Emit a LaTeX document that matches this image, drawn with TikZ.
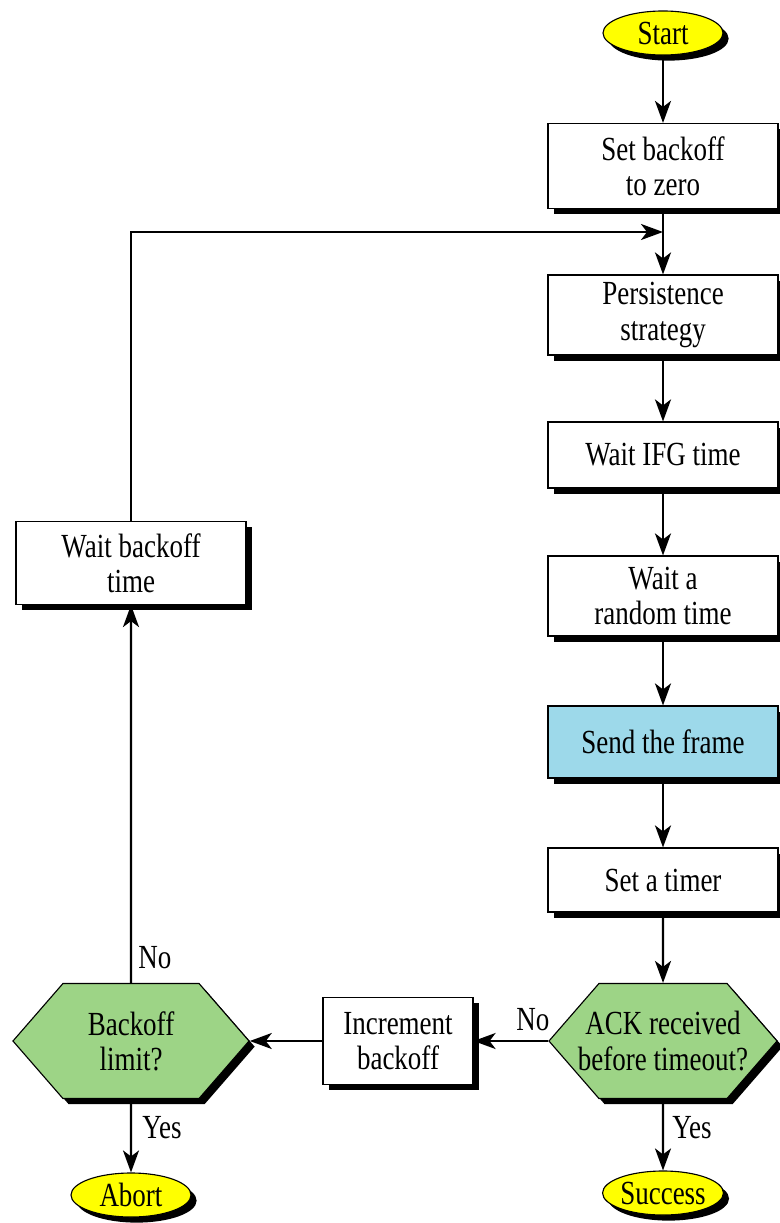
\documentclass[tikz,border=0pt]{standalone}
\usepackage{fontspec}
\setmainfont{Liberation Serif}[FakeStretch=0.8]
\usepackage{xcolor}
\usepackage{tikz}
\usetikzlibrary{calc}
\usetikzlibrary{arrows.meta}
\usetikzlibrary{shapes}
\usetikzlibrary{shapes.geometric}
\usetikzlibrary{shapes.symbols}
\usetikzlibrary{shadows}

\definecolor{termyellow}{HTML}{FFFF00}
\definecolor{sendblue}{HTML}{9DD9EA}
\definecolor{testgreen}{HTML}{9DD486}

\begin{document}
\begin{tikzpicture}[x=0.025cm, y=-0.025cm,
  every node/.style={font=\fontsize{24pt}{25pt}\selectfont, align=center},
  shade/.style={drop shadow={shadow xshift=0.14cm, shadow yshift=-0.14cm, opacity=1, fill=black}},
  terminal/.style={ellipse, draw=black, line width=0.8pt, fill=termyellow, inner sep=0pt,
    minimum width=3cm, minimum height=1.1cm, shade},
  stepbox/.style={rectangle, draw=black, line width=0.8pt, fill=white, inner sep=0pt,
    minimum width=5.75cm, shade},
  % text may run past the slanted sides, hence the negative xsep
  test/.style={signal, signal to=west and east, signal pointer angle=98, draw=black,
    line width=0.8pt, fill=testgreen, inner xsep=-0.6cm, inner ysep=0pt,
    minimum height=2.875cm, shade},
  flow/.style={-{Stealth[length=0.55cm, width=0.4cm, inset=0.15cm]}, line width=1.6pt},
  tag/.style={inner sep=0pt, anchor=west}]
\useasboundingbox (0, 0) rectangle (779, 1223);

% right column
\node [terminal] (start) at (663, 33) {Start};
\node [stepbox, minimum height=2.125cm] (setzero) at (663, 166) {Set backoff\\to zero};
\node [stepbox, minimum height=2cm] (persist) at (663, 315) {Persistence\\strategy};
\node [stepbox, minimum height=1.65cm] (ifg) at (663, 455) {Wait IFG time};
\node [stepbox, minimum height=2cm] (rand) at (663, 596) {Wait a\\random time};
\node [stepbox, minimum height=1.8cm, fill=sendblue] (send) at (663, 742) {Send the frame};
\node [stepbox, minimum height=1.6cm] (timer) at (663, 880) {Set a timer};
\node [test, minimum width=5.7cm] (ack) at (663, 1041) {ACK received\\before timeout?};
\node [terminal] (success) at (663, 1193) {Success};

% left column
\node [stepbox, minimum height=2.075cm] (backoff) at (131, 563) {Wait backoff\\time};
\node [test, minimum width=5.9cm] (limit) at (131, 1041) {Backoff\\limit?};
\node [terminal] (abort) at (131, 1195) {Abort};
\node [stepbox, minimum width=3.75cm, minimum height=2.175cm] (incr) at (398, 1041) {Increment\\backoff};

\coordinate (merge) at (663, 232);

\draw [flow] (start) to (setzero);
\draw [flow] (setzero) to (persist);
\draw [flow] (persist) to (ifg);
\draw [flow] (ifg) to (rand);
\draw [flow] (rand) to (send);
\draw [flow] (send) to (timer);
\draw [flow] (timer) to (ack);
\draw [flow] (ack) to (success);
\draw [flow] (ack.west) to (incr.east);
\draw [flow] (incr.west) to (limit.east);
\draw [flow] (limit) to (abort);
\draw [flow] (limit) to (backoff);
\draw [flow] (backoff) |- (merge);

\node [tag] (lno) at (138, 958) {No};
\node [tag] (lyes) at (142, 1128) {Yes};
\node [tag] (ano) at (516, 1020) {No};
\node [tag] (ayes) at (672, 1128) {Yes};
\end{tikzpicture}
\end{document}
